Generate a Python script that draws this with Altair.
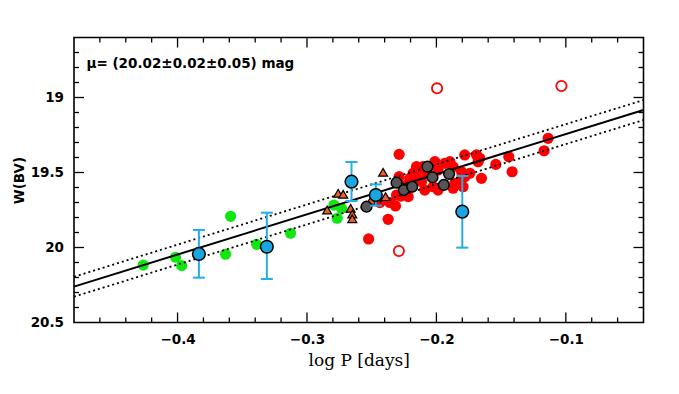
import altair as alt
import pandas as pd

# ---------------- data ----------------
red_logP = [-0.2524, -0.2373, -0.2316, -0.2288, -0.2288, -0.2275, -0.2437, -0.2308, -0.2218, -0.2230,
            -0.2154, -0.2141, -0.2115, -0.2090, -0.2205, -0.2180, -0.2128, -0.2103, -0.2012, -0.2000,
            -0.1987, -0.1987, -0.1935, -0.1896, -0.1871, -0.1871, -0.1858, -0.1819, -0.1806, -0.1794,
            -0.1781, -0.1781, -0.1742, -0.1690, -0.1678, -0.1665, -0.1652, -0.1541, -0.1441, -0.1415,
            -0.1168, -0.1137, -0.2025, -0.2070, -0.2360, -0.2200]
red_W = [19.943, 19.812, 19.723, 19.379, 19.528, 19.657, 19.701, 19.650, 19.661, 19.583,
         19.461, 19.483, 19.561, 19.617, 19.539, 19.505, 19.550, 19.461, 19.428, 19.461,
         19.617, 19.483, 19.439, 19.428, 19.461, 19.605, 19.572, 19.561, 19.495, 19.595,
         19.383, 19.528, 19.505, 19.383, 19.428, 19.405, 19.539, 19.446, 19.395, 19.495,
         19.355, 19.272, 19.595, 19.505, 19.700, 19.600]

open_logP = [-0.1995, -0.1034, -0.2290]
open_W = [18.939, 18.923, 20.023]

green_logP = [-0.4265, -0.4015, -0.3968, -0.3629, -0.3590, -0.3389, -0.3127, -0.2792, -0.2733, -0.2767]
green_W = [20.117, 20.065, 20.121, 20.045, 19.792, 19.979, 19.905, 19.717, 19.739, 19.805]

tri_logP = [-0.2412, -0.2759, -0.2720, -0.2844, -0.2663, -0.2650, -0.2650, -0.2393, -0.2505]
tri_W = [19.499, 19.639, 19.645, 19.750, 19.739, 19.777, 19.808, 19.661, 19.686]

gray_logP = [-0.2540, -0.2308, -0.2252, -0.2187, -0.2069, -0.2030, -0.1943, -0.1902]
gray_W = [19.728, 19.568, 19.617, 19.595, 19.461, 19.532, 19.583, 19.510]

blue_logP = [-0.3835, -0.3310, -0.2656, -0.2468, -0.1800]
blue_W = [20.043, 19.995, 19.561, 19.650, 19.761]
blue_lo = [19.883, 19.768, 19.430, 19.579, 19.523]
blue_hi = [20.201, 20.210, 19.690, 19.721, 20.001]

line_logP = [-0.48, -0.04]
fit_W = [20.261, 19.083]
upper_W = [20.195, 19.017]
lower_W = [20.328, 19.150]

x_labels = [-0.4, -0.3, -0.2, -0.1]
x_minor = [-0.46, -0.44, -0.42, -0.38, -0.36, -0.34, -0.32, -0.28, -0.26, -0.24, -0.22,
           -0.18, -0.16, -0.14, -0.12, -0.08, -0.06]
y_labels = [19, 19.5, 20, 20.5]
y_major = [19, 19.5, 20]
y_minor = [18.7, 18.8, 18.9, 19.1, 19.2, 19.3, 19.4, 19.6, 19.7, 19.8, 19.9,
           20.1, 20.2, 20.3, 20.4]

annotation = "μ= (20.02±0.02±0.05) mag"

# ---------------- chart ----------------
W, H = 569.5, 285
SANS = "DejaVu Sans"
SERIF = "DejaVu Serif"

xs = alt.Scale(domain=[-0.48, -0.04], nice=False, zero=False)
ys = alt.Scale(domain=[18.6, 20.5], reverse=True, nice=False, zero=False)

x_axis = alt.Axis(values=x_labels, title="log P [days]", ticks=False, tickSize=0, domain=False,
                  grid=False, labelFont=SANS, labelFontSize=13.5, labelFontWeight="bold",
                  labelColor="black", labelPadding=10, titleFont=SERIF, titleFontSize=17,
                  titleFontWeight="normal", titleColor="black", titlePadding=6)
y_axis = alt.Axis(values=y_labels, format="~g", title="W(BV)", ticks=False, tickSize=0, domain=False,
                  grid=False, labelFont=SANS, labelFontSize=13.5, labelFontWeight="bold",
                  labelColor="black", labelPadding=10.5, titleFont=SANS, titleFontSize=13.5,
                  titleFontWeight="bold", titleColor="black", titlePadding=4)

X = alt.X("logP:Q", scale=xs, axis=x_axis)
Y = alt.Y("W:Q", scale=ys, axis=y_axis)


def df(xv, wv):
    return pd.DataFrame({"logP": xv, "W": wv})


red = alt.Chart(df(red_logP, red_W)).mark_point(
    shape="circle", filled=True, size=125, color="#FF0000", opacity=1).encode(x=X, y=Y)
opn = alt.Chart(df(open_logP, open_W)).mark_point(
    shape="circle", filled=False, size=105, stroke="#FF0000", strokeWidth=1.8, opacity=1).encode(x=X, y=Y)
green = alt.Chart(df(green_logP, green_W)).mark_point(
    shape="circle", filled=True, size=125, color="#11E611", opacity=1).encode(x=X, y=Y)

fit = alt.Chart(df(line_logP, fit_W)).mark_line(color="black", strokeWidth=2).encode(x=X, y=Y)
up = alt.Chart(df(line_logP, upper_W)).mark_line(color="black", strokeWidth=1.8,
                                                 strokeDash=[2, 3]).encode(x=X, y=Y)
lo = alt.Chart(df(line_logP, lower_W)).mark_line(color="black", strokeWidth=1.8,
                                                 strokeDash=[2, 3]).encode(x=X, y=Y)

tri = alt.Chart(df(tri_logP, tri_W)).mark_point(
    shape="triangle-up", filled=True, size=80, fill="#E8612C", stroke="black",
    strokeWidth=1.2, opacity=1).encode(x=X, y=Y)
gray = alt.Chart(df(gray_logP, gray_W)).mark_point(
    shape="circle", filled=True, size=115, fill="#555555", stroke="black",
    strokeWidth=1.5, opacity=1).encode(x=X, y=Y)

err_df = pd.DataFrame({"logP": blue_logP, "W": blue_lo, "hi": blue_hi})
err = alt.Chart(err_df).mark_rule(color="#22AEE8", strokeWidth=2).encode(x=X, y=Y, y2="hi:Q")
caps = alt.Chart(df(blue_logP + blue_logP, blue_lo + blue_hi)).mark_tick(
    orient="horizontal", size=12, thickness=2, color="#22AEE8", opacity=1).encode(x=X, y=Y)
blue = alt.Chart(df(blue_logP, blue_W)).mark_point(
    shape="circle", filled=True, size=160, fill="#1BA5E0", stroke="black",
    strokeWidth=1.5, opacity=1).encode(x=X, y=Y)

# frame ticks (inward)
def xticks(vals, length):
    d = pd.DataFrame({"logP": vals})
    b = alt.Chart(d).mark_rule(color="black", strokeWidth=1.3).encode(
        x=X, y=alt.value(H), y2=alt.value(H - length))
    t = alt.Chart(d).mark_rule(color="black", strokeWidth=1.3).encode(
        x=X, y=alt.value(0), y2=alt.value(length))
    return [b, t]


def yticks(vals, length):
    d = pd.DataFrame({"W": vals})
    l = alt.Chart(d).mark_rule(color="black", strokeWidth=1.3).encode(
        y=Y, x=alt.value(0), x2=alt.value(length))
    r = alt.Chart(d).mark_rule(color="black", strokeWidth=1.3).encode(
        y=Y, x=alt.value(W), x2=alt.value(W - length))
    return [l, r]


ticks = xticks(x_labels, 10) + xticks(x_minor, 5) + yticks(y_major, 10) + yticks(y_minor, 5)

text = alt.Chart(pd.DataFrame({"t": [annotation]})).mark_text(
    align="left", baseline="middle", font=SANS, fontSize=13.5, fontWeight="bold",
    color="black").encode(x=alt.value(12.5), y=alt.value(26.5), text="t:N")

chart = alt.layer(red, opn, green, fit, up, lo, tri, gray, err, caps, blue, *ticks, text).properties(
    width=W, height=H,
    autosize=alt.AutoSizeParams(type="none"),
    padding={"left": 66, "top": 29.5, "right": 20, "bottom": 60},
    background="white",
).configure_view(stroke="black", strokeWidth=1.6)

chart.save("out.html", embed_options={"renderer": "svg", "actions": False})
